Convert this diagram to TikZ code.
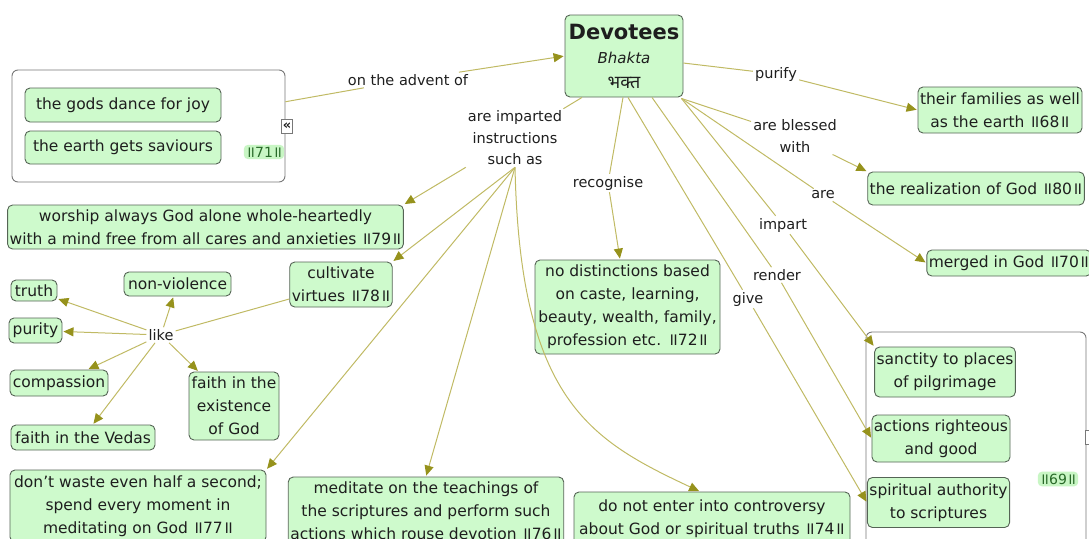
\documentclass[tikz,border=0pt]{standalone}
\usepackage{fontspec}
\setmainfont{DejaVu Sans}
\newfontfamily\devfont[Script=Devanagari]{Noto Sans}
\newfontfamily\dandafont[Script=Devanagari,Scale=1.1]{Noto Sans}
\usetikzlibrary{arrows.meta}

\definecolor{boxfill}{RGB}{206,250,204}
\definecolor{boxline}{RGB}{85,100,85}
\definecolor{grpline}{RGB}{120,120,120}
\definecolor{linec}{RGB}{192,186,100}
\definecolor{arrowc}{RGB}{150,146,28}
\definecolor{textc}{RGB}{30,30,30}
\definecolor{numc}{RGB}{40,105,40}
\definecolor{numfill}{RGB}{200,246,196}

% double danda around a sutra number
\newcommand{\sutra}[1]{{\dandafont ॥}#1{\dandafont ॥}}
\newcommand{\boxfont}{\fontsize{15.5}{23}\selectfont}
\newcommand{\lblfont}{\fontsize{14.5}{21.5}\selectfont}

\tikzset{
  concept/.style={draw=boxline, fill=boxfill, line width=0.9pt, rounded corners=5pt,
    align=center, inner sep=2pt, text=textc, font=\boxfont},
  group/.style={draw=grpline, fill=white, line width=0.9pt, rounded corners=6pt},
  lbl/.style={inner sep=2pt, align=center, text=textc, font=\lblfont},
  num/.style={fill=numfill, rounded corners=4pt, inner sep=2pt, text=numc,
    font=\fontsize{14}{16}\selectfont},
  icon/.style={draw=grpline, fill=white, line width=0.8pt, inner sep=0pt,
    minimum width=11pt, minimum height=14pt, text=textc, font=\bfseries\fontsize{13}{14}\selectfont},
  conn/.style={draw=linec, line width=1pt},
  arr/.style={conn, -{Triangle[length=10pt,width=9pt,color=arrowc]}, shorten >=1pt},
}

\begin{document}
\begin{tikzpicture}[x=1pt,y=-1pt]
\useasboundingbox (0,0) rectangle (1089,538);

% ---- central concept
\node[concept, minimum width=118, minimum height=82, font=\fontsize{15}{24.5}\selectfont] (dev) at (624,56)
  {{\bfseries\fontsize{21}{24}\selectfont Devotees}\\
   {\itshape\fontsize{15}{18}\selectfont Bhakta}\\
   {\devfont\bfseries\fontsize{18}{20}\selectfont भक्त}};

% ---- left group
\node[group, minimum width=273, minimum height=112] (gl) at (148.5,126) {};
\node[concept, minimum width=196, minimum height=34] (gods) at (123,105) {the gods dance for joy};
\node[concept, minimum width=196, minimum height=33] (earth) at (123,147.5) {the earth gets saviours};
\node[num] (n71) at (264,152) {\sutra{71}};
\node[icon] (icl) at (287,126) {«};

% ---- right side results
\node[concept, minimum width=164, minimum height=46] (fam) at (1000,110) {their families as well\\as the earth \sutra{68}};
\node[concept, minimum width=214, minimum height=33] (real) at (976,188.5) {the realization of God \sutra{80}};
\node[concept, minimum width=157, minimum height=26] (merged) at (1009,263) {merged in God \sutra{70}};

% ---- right group
\node[group, minimum width=220, minimum height=216] (gr) at (976,440) {};
\node[concept, minimum width=126, minimum height=50] (sanct) at (945,372) {sanctity to places\\of pilgrimage};
\node[concept, minimum width=118, minimum height=47] (act) at (941,438.5) {actions righteous\\and good};
\node[concept, minimum width=123, minimum height=50] (spir) at (938.5,502.5) {spiritual authority\\to scriptures};
\node[num] (n69) at (1058,479) {\sutra{69}};
\node[icon] (icr) at (1091,437) {};

% ---- middle
\node[concept, minimum width=185, minimum height=94] (nodist) at (627.5,307)
  {no distinctions based\\on caste, learning,\\beauty, wealth, family,\\profession etc. \sutra{72}};
\node[concept, minimum width=276, minimum height=54] (cont) at (712,519)
  {do not enter into controversy\\about God or spiritual truths \sutra{74}};

% ---- instructions
\node[concept, minimum width=393, minimum height=44] (wor) at (205.5,227)
  {worship always God alone whole-heartedly\\with a mind free from all cares and anxieties \sutra{79}};
\node[concept, minimum width=100, minimum height=45] (cult) at (341,284.5) {cultivate\\virtues \sutra{78}};
\node[concept, minimum width=256, minimum height=72] (waste) at (138,506)
  {don't waste even half a second;\\spend every moment in\\meditating on God \sutra{77}};
\node[concept, minimum width=272, minimum height=68] (med) at (426,511)
  {meditate on the teachings of\\the scriptures and perform such\\actions which rouse devotion \sutra{76}};

% ---- virtues
\node[concept, minimum width=46, minimum height=21, inner sep=1pt] (truth) at (34,290.5) {truth};
\node[concept, minimum width=107, minimum height=24, inner sep=1pt] (nonv) at (177.5,284) {non-violence};
\node[concept, minimum width=53, minimum height=25, inner sep=1pt] (purity) at (35.5,330.5) {purity};
\node[concept, minimum width=98, minimum height=26, inner sep=1pt] (comp) at (59,383) {compassion};
\node[concept, minimum width=144, minimum height=25, inner sep=1pt] (vedas) at (83,437.5) {faith in the Vedas};
\node[concept, minimum width=90, minimum height=68] (exist) at (234,406) {faith in the\\existence\\of God};

% ---- linking phrases
\node[lbl] (ladv) at (408,80) {on the advent of};
\node[lbl] (lpur) at (776,74) {purify};
\node[lbl] (lbl) at (795,136) {are blessed\\with};
\node[lbl] (lare) at (823,195) {are};
\node[lbl] (limp) at (783,225) {impart};
\node[lbl] (lren) at (777,275) {render};
\node[lbl] (lgive) at (748,299) {give};
\node[lbl] (lrec) at (608,183) {recognise};
\node[lbl] (lins) at (515,138) {are imparted\\instructions\\such as};
\node[lbl] (like) at (161,335) {like};

% ---- attachment points on the central concept
\coordinate (devSE) at ([xshift=-2pt,yshift=-1pt]dev.south east);
\coordinate (devRn) at ([xshift=28pt]dev.south);
\coordinate (devGv) at ([xshift=4pt]dev.south);
\coordinate (devRc) at ([xshift=-1pt]dev.south);
\coordinate (devIn) at ([xshift=-42pt]dev.south);

% ---- connectors
\draw[conn] (gl) -- (ladv);
\draw[arr] (ladv) -- (dev.west);

\draw[conn] (dev) -- (lpur);
\draw[arr] (lpur) -- (fam.west);

\draw[conn] (devSE) -- (lbl);
\draw[arr] (lbl) -- (real.north west);

\draw[conn] (devSE) -- (lare);
\draw[arr] (lare) -- (merged.west);

\draw[conn] (devSE) -- (limp);
\draw[arr] (limp) -- (sanct.north west);

\draw[conn] (devRn) -- (lren);
\draw[arr] (lren) -- (act.west);

\draw[conn] (devGv) -- (lgive);
\draw[arr] (lgive) -- (spir.west);

\draw[conn] (devRc) -- (lrec);
\draw[arr] (lrec) -- (nodist);

\draw[conn] (devIn) -- (lins);
\draw[arr] (lins.south west) -- (wor.north east);
\draw[arr] (lins.south) -- (cult.north east);
\draw[arr] (lins.south) -- (waste.north east);
\draw[arr] (lins.south) -- (med.north);
\draw[arr] (lins.south) .. controls (520,400) and (590,440) .. ([xshift=-12pt]cont.north);

\draw[conn] (cult) -- (like);
\draw[arr] (like) -- (truth);
\draw[arr] (like) -- (nonv);
\draw[arr] (like) -- (purity);
\draw[arr] (like) -- (comp);
\draw[arr] (like) -- (vedas);
\draw[arr] (like) -- (exist);
\end{tikzpicture}
\end{document}
